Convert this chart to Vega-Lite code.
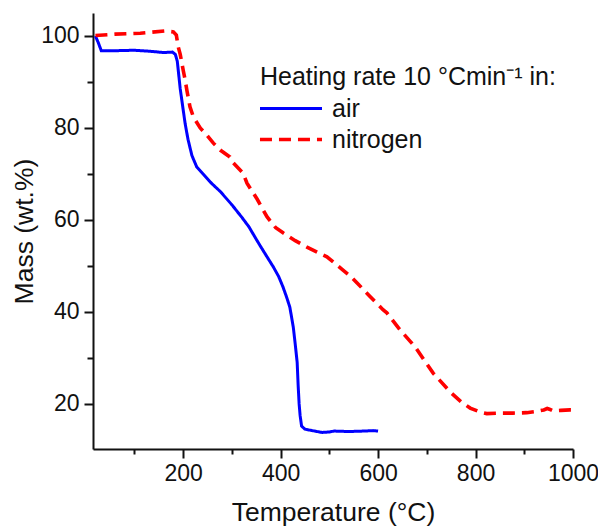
{
  "$schema": "https://vega.github.io/schema/vega-lite/v6.json",
  "width": 480,
  "height": 436,
  "autosize": "none",
  "padding": {"left": 93, "top": 13, "right": 25, "bottom": 80},
  "background": "white",
  "config": {
    "view": {"stroke": null},
    "font": "Liberation Sans",
    "axis": {"grid": false, "domainColor": "#111", "domainWidth": 2, "tickColor": "#111", "tickWidth": 2, "labelColor": "#111", "titleColor": "#111", "labelFont": "Liberation Sans", "titleFont": "Liberation Sans", "titleFontWeight": "normal", "labelFontSize": 23, "titleFontSize": 26.5}
  },
  "data": {"values": [
    {"T": 20, "mass": 100.0, "atm": "air"},
    {"T": 26, "mass": 98.5, "atm": "air"},
    {"T": 32, "mass": 96.8, "atm": "air"},
    {"T": 60, "mass": 96.8, "atm": "air"},
    {"T": 100, "mass": 96.9, "atm": "air"},
    {"T": 130, "mass": 96.7, "atm": "air"},
    {"T": 160, "mass": 96.4, "atm": "air"},
    {"T": 178, "mass": 96.5, "atm": "air"},
    {"T": 184, "mass": 96.0, "atm": "air"},
    {"T": 188, "mass": 94.5, "atm": "air"},
    {"T": 194, "mass": 88.5, "atm": "air"},
    {"T": 200, "mass": 84.0, "atm": "air"},
    {"T": 204, "mass": 81.0, "atm": "air"},
    {"T": 210, "mass": 77.5, "atm": "air"},
    {"T": 218, "mass": 74.0, "atm": "air"},
    {"T": 228, "mass": 71.5, "atm": "air"},
    {"T": 241, "mass": 70.0, "atm": "air"},
    {"T": 258, "mass": 68.0, "atm": "air"},
    {"T": 276, "mass": 66.2, "atm": "air"},
    {"T": 300, "mass": 63.3, "atm": "air"},
    {"T": 321, "mass": 60.5, "atm": "air"},
    {"T": 335, "mass": 58.5, "atm": "air"},
    {"T": 350, "mass": 55.8, "atm": "air"},
    {"T": 358, "mass": 54.4, "atm": "air"},
    {"T": 372, "mass": 52.0, "atm": "air"},
    {"T": 385, "mass": 49.8, "atm": "air"},
    {"T": 396, "mass": 47.7, "atm": "air"},
    {"T": 405, "mass": 45.4, "atm": "air"},
    {"T": 413, "mass": 43.0, "atm": "air"},
    {"T": 419, "mass": 41.0, "atm": "air"},
    {"T": 426, "mass": 36.7, "atm": "air"},
    {"T": 430, "mass": 33.0, "atm": "air"},
    {"T": 434, "mass": 29.0, "atm": "air"},
    {"T": 436, "mass": 24.0, "atm": "air"},
    {"T": 438, "mass": 20.0, "atm": "air"},
    {"T": 440, "mass": 17.5, "atm": "air"},
    {"T": 443, "mass": 15.2, "atm": "air"},
    {"T": 450, "mass": 14.5, "atm": "air"},
    {"T": 465, "mass": 14.2, "atm": "air"},
    {"T": 485, "mass": 13.8, "atm": "air"},
    {"T": 500, "mass": 13.9, "atm": "air"},
    {"T": 510, "mass": 14.1, "atm": "air"},
    {"T": 540, "mass": 14.0, "atm": "air"},
    {"T": 570, "mass": 14.1, "atm": "air"},
    {"T": 590, "mass": 14.2, "atm": "air"},
    {"T": 600, "mass": 14.1, "atm": "air"},
    {"T": 20, "mass": 100.1, "atm": "nitrogen"},
    {"T": 60, "mass": 100.4, "atm": "nitrogen"},
    {"T": 112, "mass": 100.6, "atm": "nitrogen"},
    {"T": 163, "mass": 101.1, "atm": "nitrogen"},
    {"T": 180, "mass": 100.9, "atm": "nitrogen"},
    {"T": 186, "mass": 100.2, "atm": "nitrogen"},
    {"T": 190, "mass": 97.6, "atm": "nitrogen"},
    {"T": 194, "mass": 96.0, "atm": "nitrogen"},
    {"T": 200, "mass": 92.6, "atm": "nitrogen"},
    {"T": 204, "mass": 90.5, "atm": "nitrogen"},
    {"T": 208, "mass": 88.0, "atm": "nitrogen"},
    {"T": 214, "mass": 84.6, "atm": "nitrogen"},
    {"T": 221, "mass": 82.4, "atm": "nitrogen"},
    {"T": 235, "mass": 80.0, "atm": "nitrogen"},
    {"T": 245, "mass": 78.9, "atm": "nitrogen"},
    {"T": 262, "mass": 76.7, "atm": "nitrogen"},
    {"T": 276, "mass": 75.2, "atm": "nitrogen"},
    {"T": 296, "mass": 73.7, "atm": "nitrogen"},
    {"T": 303, "mass": 72.4, "atm": "nitrogen"},
    {"T": 323, "mass": 70.2, "atm": "nitrogen"},
    {"T": 331, "mass": 68.0, "atm": "nitrogen"},
    {"T": 352, "mass": 64.5, "atm": "nitrogen"},
    {"T": 372, "mass": 60.7, "atm": "nitrogen"},
    {"T": 390, "mass": 58.3, "atm": "nitrogen"},
    {"T": 405, "mass": 57.2, "atm": "nitrogen"},
    {"T": 430, "mass": 55.5, "atm": "nitrogen"},
    {"T": 454, "mass": 54.1, "atm": "nitrogen"},
    {"T": 475, "mass": 53.0, "atm": "nitrogen"},
    {"T": 495, "mass": 52.0, "atm": "nitrogen"},
    {"T": 528, "mass": 49.1, "atm": "nitrogen"},
    {"T": 543, "mass": 47.8, "atm": "nitrogen"},
    {"T": 557, "mass": 46.3, "atm": "nitrogen"},
    {"T": 584, "mass": 43.3, "atm": "nitrogen"},
    {"T": 610, "mass": 40.5, "atm": "nitrogen"},
    {"T": 618, "mass": 39.8, "atm": "nitrogen"},
    {"T": 645, "mass": 36.1, "atm": "nitrogen"},
    {"T": 676, "mass": 32.4, "atm": "nitrogen"},
    {"T": 713, "mass": 26.7, "atm": "nitrogen"},
    {"T": 748, "mass": 22.6, "atm": "nitrogen"},
    {"T": 770, "mass": 20.5, "atm": "nitrogen"},
    {"T": 789, "mass": 19.1, "atm": "nitrogen"},
    {"T": 810, "mass": 18.2, "atm": "nitrogen"},
    {"T": 823, "mass": 17.9, "atm": "nitrogen"},
    {"T": 850, "mass": 18.0, "atm": "nitrogen"},
    {"T": 877, "mass": 18.0, "atm": "nitrogen"},
    {"T": 905, "mass": 18.1, "atm": "nitrogen"},
    {"T": 926, "mass": 18.4, "atm": "nitrogen"},
    {"T": 940, "mass": 18.7, "atm": "nitrogen"},
    {"T": 947, "mass": 19.0, "atm": "nitrogen"},
    {"T": 953, "mass": 18.8, "atm": "nitrogen"},
    {"T": 959, "mass": 18.5, "atm": "nitrogen"},
    {"T": 975, "mass": 18.6, "atm": "nitrogen"},
    {"T": 994, "mass": 18.7, "atm": "nitrogen"},
    {"T": 1000, "mass": 18.7, "atm": "nitrogen"}
  ]},
  "mark": {"type": "line", "interpolate": "linear"},
  "encoding": {
    "x": {
      "field": "T", "type": "quantitative",
      "scale": {"domain": [15, 1000], "nice": false, "zero": false},
      "axis": {
        "title": "Temperature (°C)",
        "values": [100, 200, 300, 400, 500, 600, 700, 800, 900, 1000],
        "format": "d",
        "labelExpr": "datum.value % 200 === 0 ? datum.label : ''",
        "tickSize": {"condition": {"test": "datum.value % 200 === 0", "value": 9}, "value": 5},
        "labelPadding": 4,
        "titlePadding": 14,
        "labelFlush": false,
        "labelOverlap": false
      }
    },
    "y": {
      "field": "mass", "type": "quantitative",
      "scale": {"domain": [10.2, 105], "nice": false, "zero": false},
      "axis": {
        "title": "Mass (wt.%)",
        "values": [20, 30, 40, 50, 60, 70, 80, 90, 100],
        "labelExpr": "datum.value % 20 === 0 ? datum.label : ''",
        "tickSize": {"condition": {"test": "datum.value % 20 === 0", "value": 9}, "value": 6},
        "labelPadding": 5,
        "titlePadding": 2,
        "labelFlush": false,
        "labelOverlap": false
      }
    },
    "strokeWidth": {
      "field": "atm", "type": "nominal",
      "scale": {"domain": ["air", "nitrogen"], "range": [3, 3.6]},
      "legend": null
    },
    "color": {
      "field": "atm", "type": "nominal",
      "scale": {"domain": ["air", "nitrogen"], "range": ["#0000ff", "#ff0000"]},
      "legend": {
        "title": "Heating rate 10 °Cmin⁻¹ in:",
        "orient": "none", "legendX": 167, "legendY": 52,
        "titleFontSize": 25, "titleFontWeight": "normal", "titleColor": "#111", "titleFont": "Liberation Sans", "titleLimit": 400,
        "labelFontSize": 25, "labelColor": "#111", "labelFont": "Liberation Sans",
        "symbolType": "M-1.67,0H6.6", "symbolSize": 225, "symbolStrokeWidth": 3,
        "labelOffset": 47, "rowPadding": 5, "titlePadding": 6
      }
    },
    "strokeDash": {
      "field": "atm", "type": "nominal",
      "scale": {"domain": ["air", "nitrogen"], "range": [[1, 0], [12, 7]]},
      "legend": {
        "title": "Heating rate 10 °Cmin⁻¹ in:",
        "orient": "none", "legendX": 167, "legendY": 52,
        "titleFontSize": 25, "titleFontWeight": "normal", "titleColor": "#111", "titleFont": "Liberation Sans", "titleLimit": 400,
        "labelFontSize": 25, "labelColor": "#111", "labelFont": "Liberation Sans",
        "symbolType": "M-1.67,0H6.6", "symbolSize": 225, "symbolStrokeWidth": 3,
        "labelOffset": 47, "rowPadding": 5, "titlePadding": 6
      }
    }
  }
}
